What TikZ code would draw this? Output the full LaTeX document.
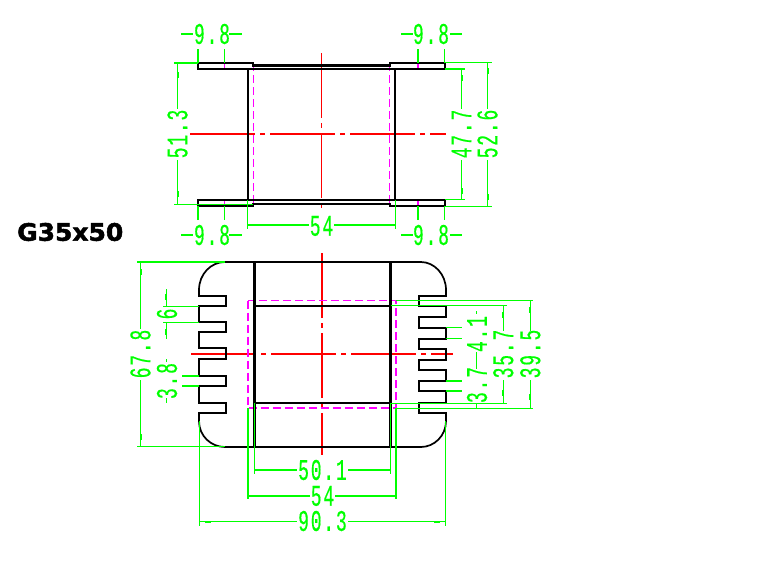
\documentclass[tikz,border=0pt]{standalone}
\usepackage{fontspec}
\newfontfamily\dimfont[FakeStretch=0.6,LetterSpace=6,FakeBold=0.4]{Liberation Mono}
\newfontfamily\titlefont[FakeStretch=1.04,FakeBold=2]{DejaVu Sans Bold}
\definecolor{dimgreen}{RGB}{0,255,0}
\definecolor{centerred}{RGB}{255,0,0}
\definecolor{hiddenpink}{RGB}{255,0,255}

\begin{document}
\begin{tikzpicture}[x=1pt,y=-1pt,
main line/.style={draw=black,line width=2.4pt,line join=miter},
corner line/.style={draw=black,line width=1.7pt},
dim line/.style={draw=dimgreen,line width=1.2pt},
center line/.style={draw=centerred,line width=1.2pt,dash pattern=on 65pt off 5pt on 5pt off 5pt},
hidden line/.style={draw=hiddenpink,line width=1.2pt,dash pattern=on 8pt off 4pt},
dim text/.style={text=dimgreen,inner sep=0pt,font=\dimfont\fontsize{30}{30}\selectfont},
dim vert/.style={dim text,rotate=90}]
\useasboundingbox (0,0) rectangle (760,570);

% upper view
\draw[center line] (190,134) -- (446,134);
\draw[center line] (321.5,53) -- (321.5,208);
\draw[hidden line] (253.5,63) -- (253.5,204);
\draw[hidden line] (389.5,63) -- (389.5,204);
\draw[draw=hiddenpink,line width=1.2pt] (224.5,63) -- (224.5,69) (418,63) -- (418,69) (224.5,200) -- (224.5,206) (418,200) -- (418,206);
\draw[main line] (198,69) -- (198,63) -- (253,63) -- (253,65.5) -- (390,65.5) -- (390,63) -- (445,63) -- (445,69) -- cycle;
\draw[main line] (198,200) -- (198,206) -- (253,206) -- (253,204) -- (390,204) -- (390,206) -- (445,206) -- (445,200) -- cycle;
\draw[main line] (248,69) -- (248,200);
\draw[main line] (395,69) -- (395,200);

% lower view
\draw[center line] (191,354) -- (453,354);
\draw[center line] (322,253) -- (322,455);
\draw[hidden line] (248,300.5) rectangle (396,408);
\draw[main line] (254.5,262) -- (254.5,447);
\draw[main line] (390.5,262) -- (390.5,447);
\draw[main line] (254.5,306) -- (390.5,306);
\draw[main line] (254.5,403) -- (390.5,403);
\draw[main line] (225,262) -- (421,262);
\draw[main line] (225,447) -- (421,447);
\draw[corner line] (199,290) .. controls (199,274) and (211,262) .. (225,262);
\draw[corner line] (199,421) .. controls (199,436) and (211,447) .. (225,447);
\draw[corner line] (446,290) .. controls (446,274) and (434,262) .. (421,262);
\draw[corner line] (446,421) .. controls (446,436) and (434,447) .. (421,447);
\draw[main line] (199,290) -- (199,296) -- (226,296) -- (226,306) -- (199,306) -- (199,322) -- (226,322) -- (226,332) -- (199,332) -- (199,348) -- (226,348) -- (226,359) -- (199,359) -- (199,376) -- (226,376) -- (226,386) -- (199,386) -- (199,403) -- (226,403) -- (226,413) -- (199,413) -- (199,421);
\draw[main line] (446,290) -- (446,296) -- (419,296) -- (419,306) -- (446,306) -- (446,317) -- (419,317) -- (419,328) -- (446,328) -- (446,339) -- (419,339) -- (419,349) -- (446,349) -- (446,360) -- (419,360) -- (419,370) -- (446,370) -- (446,381) -- (419,381) -- (419,391) -- (446,391) -- (446,403) -- (419,403) -- (419,413) -- (446,413) -- (446,421);

% title
\node[anchor=west,inner sep=0pt,font=\titlefont\fontsize{24}{24}\selectfont] (title) at (17,232) {G35x50};

% upper view sizes
\node[dim text] (wtl) at (212,34) {9.8};
\node[dim text] (wtr) at (431,34) {9.8};
\node[dim text] (wbl) at (212,235) {9.8};
\node[dim text] (wbr) at (431,235) {9.8};
\node[dim text] (wmid) at (321.5,226) {54};
\node[dim vert] (hleft) at (177.5,134) {51.3};
\node[dim vert] (hin) at (461.5,134) {47.7};
\node[dim vert] (hout) at (487.5,134) {52.6};
\foreach \y in {34,235} {
  \draw[dim line] (181,\y) -- (193,\y) (229,\y) -- (242,\y);
  \draw[dim line] (401,\y) -- (413,\y) (450,\y) -- (462,\y);
}
\draw[dim line] (198,49) -- (198,63) (224.5,49) -- (224.5,63) (418,49) -- (418,63) (444.5,49) -- (444.5,63);
\draw[dim line] (198,206) -- (198,220) (224.5,206) -- (224.5,220) (418,206) -- (418,220) (444.5,206) -- (444.5,220);
\draw[dim line] (174,63) -- (198,63) (174,204.5) -- (253,204.5);
\draw[dim line] (177.5,63) -- (177.5,109) (177.5,160) -- (177.5,204.5);
\draw[dim line] (445,62.5) -- (492,62.5) (445,69) -- (465,69) (445,199.5) -- (465,199.5) (445,206.5) -- (492,206.5);
\draw[dim line] (461.5,69) -- (461.5,109) (461.5,160) -- (461.5,199.5);
\draw[dim line] (487.5,62.5) -- (487.5,109) (487.5,160) -- (487.5,206.5);
\draw[dim line] (247.5,200) -- (247.5,229) (395.3,200) -- (395.3,229);
\draw[dim line] (247.5,225) -- (309,225) (334,225) -- (395.3,225);

% lower view sizes
\node[dim vert] (hall) at (140.5,354) {67.8};
\node[dim vert] (tooth) at (167,314) {6};
\node[dim vert] (gapl) at (167,381) {3.8};
\node[dim vert] (pitch) at (477,334) {4.1};
\node[dim vert] (gapr) at (477,385) {3.7};
\node[dim vert] (hwin) at (503.3,354) {35.7};
\node[dim vert] (hbox) at (530.3,354) {39.5};
\node[dim text] (wwin) at (322.5,470) {50.1};
\node[dim text] (wbox) at (322.5,496) {54};
\node[dim text] (wall) at (322.5,521) {90.3};
\draw[dim line] (137,262) -- (225,262) (137,446.5) -- (225,446.5);
\draw[dim line] (140.5,262) -- (140.5,329) (140.5,380) -- (140.5,446.5);
\draw[dim line] (163,306.3) -- (199,306.3) (163,322.5) -- (199,322.5);
\draw[dim line] (166.3,289) -- (166.3,306) (166.3,322.5) -- (166.3,339);
\draw[dim line] (182,376) -- (199,376) (182,386) -- (199,386);
\draw[dim line] (166.3,359) -- (166.3,362) (166.3,398) -- (166.3,403);
\draw[dim line] (254.5,403) -- (254.5,473.5) (390.3,403) -- (390.3,473.5);
\draw[dim line] (254.5,470) -- (297,470) (348,470) -- (390.3,470);
\draw[dim line] (248,408) -- (248,499) (396,408) -- (396,499);
\draw[dim line] (248,496) -- (310,496) (335,496) -- (396,496);
\draw[dim line] (199.3,421) -- (199.3,525.5) (445.3,421) -- (445.3,525.5);
\draw[dim line] (199.3,521.5) -- (297,521.5) (348,521.5) -- (445.3,521.5);
\draw[dim line] (396,300.5) -- (533,300.5) (391,305.5) -- (507,305.5);
\draw[dim line] (391,403.3) -- (507,403.3) (396,408.3) -- (533,408.3);
\draw[dim line] (503.3,305.5) -- (503.3,331) (503.3,380) -- (503.3,403.3);
\draw[dim line] (530.3,300.5) -- (530.3,331) (530.3,380) -- (530.3,408.3);
\foreach \y in {327.5,338.5,381,391}
  \draw[dim line] (446,\y) -- (462,\y);
\draw[dim line] (476.7,311) -- (476.7,314) (476.7,352) -- (476.7,369) (476.7,403) -- (476.7,408);

% arrow marks
\foreach \x/\y in {187/34,236/34,409/34,454/34,187/235,236/235,409/235,454/235,258/225,385/225,264/470,380/470,258/496,387/496,208/521.5,437/521.5}
  \fill[dimgreen] (\x-3,\y-1) rectangle (\x+3,\y+1);
\foreach \x/\y in {177.5/75,177.5/194,461.5/78,461.5/191,487.5/71,487.5/197,140.5/272,140.5/437,166.3/297,166.3/332,503.3/315,503.3/393,530.3/310,530.3/397}
  \fill[dimgreen] (\x-1,\y-3) rectangle (\x+1,\y+3);
\end{tikzpicture}
\end{document}
